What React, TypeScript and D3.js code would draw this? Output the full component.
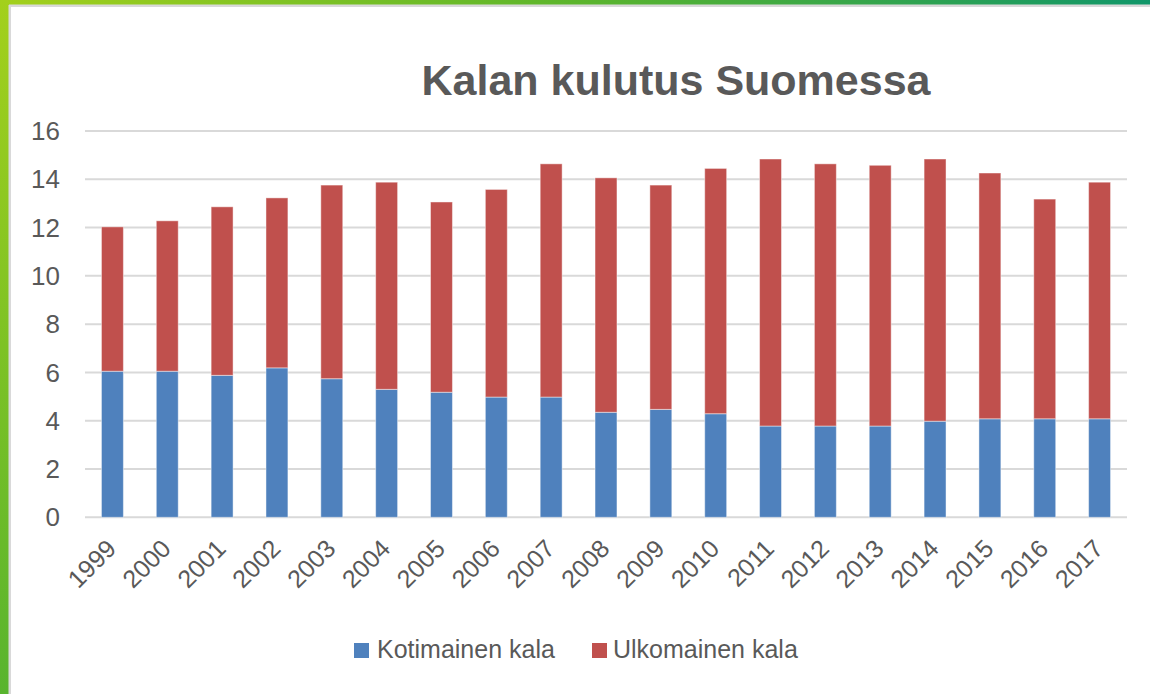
import React from "react";
import * as d3 from "d3";

const years = ["1999","2000","2001","2002","2003","2004","2005","2006","2007","2008","2009","2010","2011","2012","2013","2014","2015","2016","2017"];
const kotimainen = [6.05, 6.05, 5.88, 6.19, 5.74, 5.30, 5.18, 4.98, 4.98, 4.35, 4.47, 4.29, 3.78, 3.78, 3.78, 3.98, 4.08, 4.08, 4.08];
const ulkomainen = [5.98, 6.23, 6.98, 7.04, 8.02, 8.58, 7.88, 8.60, 9.66, 9.71, 9.29, 10.16, 11.06, 10.86, 10.80, 10.86, 10.18, 9.10, 9.80];
const yTicks = [0, 2, 4, 6, 8, 10, 12, 14, 16];
const seriesNames = ["Kotimainen kala", "Ulkomainen kala"];
const colors = ["#4F81BD", "#C0504D"];

const W = 1150, H = 694;
const FONT = "'Liberation Sans', Arial, sans-serif";

export default function App() {
  const x = d3.scaleBand<string>().domain(years).range([85, 1127]).paddingInner(0.6).paddingOuter(0.3);
  const y = d3.scaleLinear().domain([0, 16]).range([517.3, 131]);
  const rows = years.map((yr, i) => ({ year: yr, k: kotimainen[i], u: ulkomainen[i] }));
  const stack = d3.stack<any>().keys(["k", "u"])(rows);
  const bw = x.bandwidth();

  return (
    <div style={{ position: "absolute", left: 0, top: 0 }}>
      <svg width={W} height={H} style={{ display: "block" }}>
        <defs>
          <linearGradient id="topg" x1="0" y1="0" x2="1" y2="0">
            <stop offset="0" stopColor="#a3d01c" />
            <stop offset="0.5" stopColor="#5cb52c" />
            <stop offset="1" stopColor="#11976a" />
          </linearGradient>
          <linearGradient id="leftg" x1="0" y1="0" x2="0" y2="1">
            <stop offset="0" stopColor="#a3d01c" />
            <stop offset="1" stopColor="#58b42e" />
          </linearGradient>
        </defs>
        <rect x={0} y={0} width={W} height={H} fill="#ffffff" />
        <rect x={0} y={0} width={W} height={5} fill="url(#topg)" />
        <rect x={0} y={0} width={9} height={H} fill="url(#leftg)" />
        <rect x={9} y={4.5} width={W - 9} height={2.5} fill="#d9d9d9" />
        <rect x={8.5} y={5} width={2.5} height={H - 5} fill="#d9d9d9" />

        <text x={676} y={95} textAnchor="middle" fontFamily={FONT} fontWeight="bold" fontSize={43} fill="#595959">
          Kalan kulutus Suomessa
        </text>

        {yTicks.map((t) => (
          <g key={t}>
            <line x1={85} x2={1127} y1={y(t)} y2={y(t)} stroke="#d9d9d9" strokeWidth={2} />
            <text x={60} y={y(t)} dy="0.35em" textAnchor="end" fontFamily={FONT} fontSize={26} fill="#595959">
              {t}
            </text>
          </g>
        ))}

        {stack.map((s, si) => (
          <g key={si}>
            {s.map((d, i) => (
              <rect
                key={i}
                x={x(years[i])!}
                y={y(d[1])}
                width={bw}
                height={y(d[0]) - y(d[1])}
                fill={colors[si]}
                stroke="#ffffff"
                strokeOpacity={0.45}
                strokeWidth={1}
              />
            ))}
          </g>
        ))}

        {years.map((yr) => {
          const cx = x(yr)! + bw / 2 - 1;
          const cy = 544;
          return (
            <text
              key={yr}
              x={cx}
              y={cy}
              dy="0.35em"
              textAnchor="end"
              transform={`rotate(-45 ${cx} ${cy})`}
              fontFamily={FONT}
              fontSize={25}
              fill="#595959"
            >
              {yr}
            </text>
          );
        })}

        <rect x={354} y={643} width={15} height={15} fill={colors[0]} />
        <text x={377} y={658} fontFamily={FONT} fontSize={25} fill="#595959">{seriesNames[0]}</text>
        <rect x={592} y={643} width={15} height={15} fill={colors[1]} />
        <text x={613} y={658} fontFamily={FONT} fontSize={25} fill="#595959">{seriesNames[1]}</text>
      </svg>
    </div>
  );
}
